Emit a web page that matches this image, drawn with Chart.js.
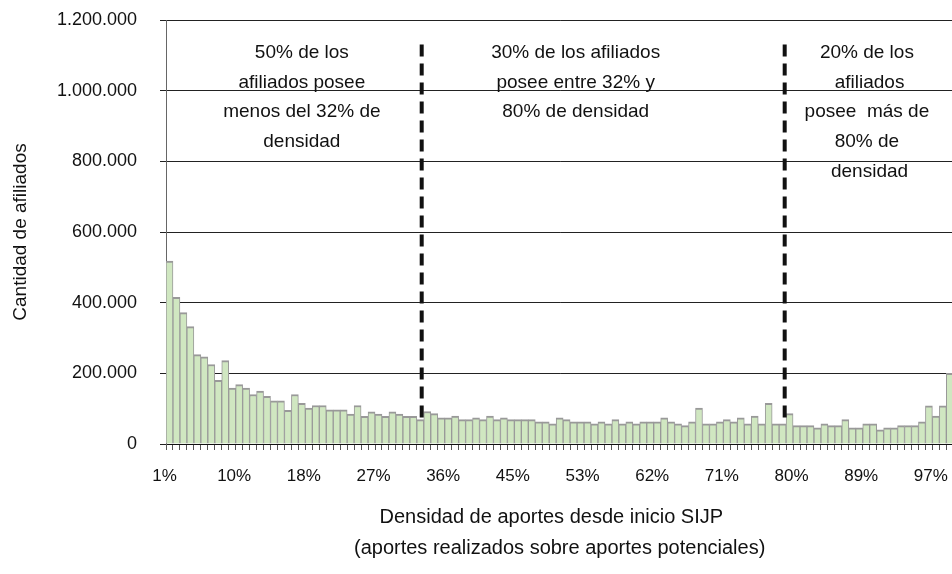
<!DOCTYPE html>
<html>
<head>
<meta charset="utf-8">
<script src="https://cdn.jsdelivr.net/npm/chart.js@4"></script>
<style>
  html, body { margin: 0; padding: 0; overflow: hidden; background: #fff; }
  #c { display: block; }
</style>
</head>
<body>
<canvas id="c" width="960" height="574" style="width:960px;height:574px"></canvas>
<script>
// afiliados por tramo de densidad (113 tramos, de 1% a 100%)
const values = [
  518000, 415000, 372000, 332000, 253000, 247000, 225000, 180000, 236000, 158000,
  168000, 158000, 140000, 150000, 135000, 122000, 122000, 95000, 140000, 115000,
  102000, 109000, 109000, 97000, 97000, 97000, 85000, 109000, 78000, 91000,
  85000, 78000, 91000, 85000, 78000, 78000, 69000, 92000, 86000, 74000,
  74000, 79000, 69000, 69000, 74000, 69000, 79000, 69000, 74000, 69000,
  69000, 69000, 69000, 63000, 63000, 57000, 74000, 69000, 63000, 63000,
  63000, 57000, 63000, 57000, 69000, 57000, 63000, 57000, 63000, 63000,
  63000, 74000, 63000, 57000, 52000, 63000, 102000, 57000, 57000, 63000,
  69000, 63000, 74000, 57000, 79000, 57000, 115000, 57000, 57000, 86000,
  52000, 52000, 52000, 46000, 57000, 52000, 52000, 69000, 46000, 46000,
  57000, 57000, 40000, 46000, 46000, 52000, 52000, 52000, 63000, 108000,
  79000, 108000, 200000
];

// etiquetas visibles del eje x, una cada 10 tramos
const tickLabels = ['1%', '10%', '18%', '27%', '36%', '45%', '53%', '62%', '71%', '80%', '89%', '97%'];
const tickEvery = 10;

const yTicks = [0, 200000, 400000, 600000, 800000, 1000000, 1200000];

// cortes de 32% y 80% (en unidades de tramo)
const dividers = [36.7, 88.8];

const notes = [
  { at: 19.5, lines: ['50% de los', 'afiliados posee', 'menos del 32% de', 'densidad'] },
  { at: 58.8, lines: ['30% de los afiliados', 'posee entre 32% y', '80% de densidad'] },
  { at: 100.6, lines: ['20% de los', ' afiliados', 'posee  más de', '80% de', ' densidad'] }
];

const labels = values.map((v, i) => i % tickEvery === 0 ? tickLabels[i / tickEvery] : '');

function miles(n) {
  return String(n).replace(/\B(?=(\d{3})+(?!\d))/g, '.');
}

const FONT = 'Liberation Sans, Arial, sans-serif';
const INK = '#111';

const annotate = {
  id: 'annotate',
  afterDatasetsDraw(chart) {
    const { ctx, chartArea, scales: { x, y } } = chart;
    ctx.save();
    ctx.strokeStyle = '#111';
    ctx.lineWidth = 4;
    ctx.setLineDash([12, 7]);
    dividers.forEach(d => {
      const px = x.getPixelForDecimal(d / values.length);
      ctx.beginPath();
      ctx.moveTo(px, y.getPixelForValue(75000));
      ctx.lineTo(px, y.getPixelForValue(1140000));
      ctx.stroke();
    });
    ctx.setLineDash([]);

    ctx.fillStyle = INK;
    ctx.font = '19px ' + FONT;
    ctx.textAlign = 'center';
    ctx.textBaseline = 'middle';
    notes.forEach(n => {
      const px = x.getPixelForDecimal(n.at / values.length);
      n.lines.forEach((t, i) => {
        ctx.fillText(t, px, chartArea.top + 33 + i * 29.6);
      });
    });
    ctx.restore();
  }
};

new Chart(document.getElementById('c'), {
  type: 'bar',
  data: {
    labels: labels,
    datasets: [{
      data: values,
      backgroundColor: '#d0e7c1',
      borderColor: '#999',
      borderWidth: { top: 2, left: 1, right: 1, bottom: 0 },
      barPercentage: 1,
      categoryPercentage: 1
    }]
  },
  options: {
    responsive: false,
    animation: false,
    devicePixelRatio: 1,
    layout: { padding: { top: 20, right: 6.7, bottom: 0, left: 0 } },
    plugins: {
      legend: { display: false },
      tooltip: { enabled: false }
    },
    scales: {
      x: {
        offset: true,
        grid: {
          offset: true,
          drawOnChartArea: false,
          drawTicks: true,
          tickLength: 6,
          color: '#555'
        },
        border: { display: true, color: '#111', width: 1 },
        ticks: {
          autoSkip: false,
          maxRotation: 0,
          padding: 16,
          labelOffset: -5,
          color: INK,
          font: { family: FONT, size: 17 }
        },
        title: {
          display: true,
          text: ['Densidad de aportes desde inicio SIJP   ', '(aportes realizados sobre aportes potenciales)'],
          color: INK,
          font: { family: FONT, size: 20, lineHeight: 1.55 },
          padding: { top: 0, bottom: 10.5 }
        },
        afterFit(scale) {
          scale.height = 130;
          scale.paddingLeft = 0;
          scale.paddingRight = 0;
        }
      },
      y: {
        min: 0,
        max: 1200000,
        afterBuildTicks(scale) { scale.ticks = yTicks.map(v => ({ value: v })); },
        grid: { color: '#222', lineWidth: 1, tickLength: 6 },
        border: { display: true, color: '#666', width: 1 },
        ticks: {
          padding: 23,
          color: INK,
          font: { family: FONT, size: 18 },
          callback: v => miles(v)
        },
        title: {
          display: true,
          text: 'Cantidad de afiliados',
          color: INK,
          font: { family: FONT, size: 19 },
          padding: { top: 9, bottom: 0 }
        },
        afterFit(scale) {
          scale.width = 166;
          scale.paddingTop = 0;
          scale.paddingBottom = 0;
        }
      }
    }
  },
  plugins: [annotate]
});
</script>
</body>
</html>
